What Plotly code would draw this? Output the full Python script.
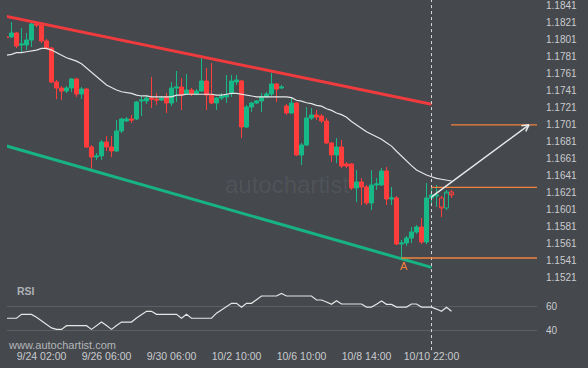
import plotly.graph_objects as go

# ---------------- data (4H candles, index = candle number) ----------------
opens = [1.18035, 1.18035, 1.18081, 1.17940, 1.17940, 1.17998, 1.18187, 1.18175, 1.17987, 1.17904,
         1.17504, 1.17434, 1.17398, 1.17434, 1.17540, 1.17363, 1.17422, 1.16740, 1.16622, 1.16634,
         1.16798, 1.16740, 1.16693, 1.16928, 1.17045, 1.17069, 1.17069, 1.17281, 1.17281, 1.17316,
         1.17304, 1.17292, 1.17328, 1.17257, 1.17434, 1.17445, 1.17363, 1.17410, 1.17363, 1.17398,
         1.17516, 1.17351, 1.17257, 1.17316, 1.17328, 1.17375, 1.17504, 1.17516, 1.16975, 1.17210,
         1.17257, 1.17281, 1.17328, 1.17363, 1.17481, 1.17434, 1.17222, 1.17140, 1.17257, 1.16646,
         1.16763, 1.17081, 1.17116, 1.17104, 1.17045, 1.16787, 1.16646, 1.16740, 1.16540, 1.16540,
         1.16257, 1.16328, 1.16269, 1.16081, 1.16293, 1.16293, 1.16457, 1.16128, 1.16140, 1.15598,
         1.15610, 1.15669, 1.15740, 1.15798, 1.15622, 1.16140, 1.16163, 1.16140, 1.16022, 1.16210]
highs = [1.18057, 1.18210, 1.18093, 1.18140, 1.18081, 1.18198, 1.18198, 1.18198, 1.18010, 1.17916,
         1.17528, 1.17457, 1.17457, 1.17551, 1.17551, 1.17445, 1.17434, 1.16763, 1.16669, 1.16822,
         1.16869, 1.16869, 1.17057, 1.17081, 1.17093, 1.17116, 1.17281, 1.17340, 1.17351, 1.17563,
         1.17375, 1.17340, 1.17375, 1.17504, 1.17634, 1.17551, 1.17598, 1.17434, 1.17422, 1.17798,
         1.17669, 1.17728, 1.17328, 1.17375, 1.17587, 1.17587, 1.17587, 1.17528, 1.17234, 1.17269,
         1.17292, 1.17375, 1.17387, 1.17610, 1.17492, 1.17469, 1.17245, 1.17316, 1.17269, 1.16787,
         1.17210, 1.17198, 1.17175, 1.17128, 1.17081, 1.16798, 1.16845, 1.16822, 1.16563, 1.16551,
         1.16469, 1.16375, 1.16293, 1.16469, 1.16375, 1.16493, 1.16504, 1.16269, 1.16163, 1.15646,
         1.15693, 1.15798, 1.15822, 1.15904, 1.16316, 1.16293, 1.16293, 1.16163, 1.16234, 1.16234]
lows = [1.18010, 1.18022, 1.17904, 1.17845, 1.17881, 1.17916, 1.18151, 1.17963, 1.17881, 1.17492,
        1.17304, 1.17292, 1.17375, 1.17387, 1.17328, 1.17304, 1.16728, 1.16481, 1.16587, 1.16587,
        1.16693, 1.16622, 1.16681, 1.16904, 1.17034, 1.17022, 1.17057, 1.17104, 1.17245, 1.17198,
        1.17234, 1.17281, 1.17140, 1.17222, 1.17269, 1.17175, 1.17363, 1.17340, 1.17351, 1.17387,
        1.17175, 1.17245, 1.17175, 1.17292, 1.17257, 1.17328, 1.17469, 1.16845, 1.16963, 1.17151,
        1.17245, 1.17151, 1.17316, 1.17340, 1.17269, 1.17422, 1.17116, 1.17128, 1.16634, 1.16528,
        1.16751, 1.17057, 1.17057, 1.17022, 1.16775, 1.16563, 1.16551, 1.16493, 1.16493, 1.16234,
        1.16093, 1.16057, 1.16057, 1.15998, 1.16234, 1.16281, 1.16057, 1.16057, 1.15587, 1.15434,
        1.15575, 1.15610, 1.15716, 1.15598, 1.15598, 1.16045, 1.16034, 1.15916, 1.15998, 1.16140]
closes = [1.18028, 1.18081, 1.17928, 1.17951, 1.17998, 1.18187, 1.18175, 1.17987, 1.17904, 1.17504,
          1.17434, 1.17398, 1.17434, 1.17540, 1.17363, 1.17422, 1.16740, 1.16622, 1.16634, 1.16798,
          1.16740, 1.16693, 1.16928, 1.17069, 1.17069, 1.17057, 1.17269, 1.17292, 1.17316, 1.17304,
          1.17292, 1.17316, 1.17257, 1.17434, 1.17445, 1.17351, 1.17410, 1.17363, 1.17398, 1.17516,
          1.17351, 1.17257, 1.17316, 1.17340, 1.17351, 1.17516, 1.17528, 1.16975, 1.17210, 1.17257,
          1.17281, 1.17328, 1.17363, 1.17481, 1.17422, 1.17445, 1.17140, 1.17257, 1.16646, 1.16763,
          1.17081, 1.17116, 1.17093, 1.17045, 1.16787, 1.16646, 1.16740, 1.16516, 1.16516, 1.16257,
          1.16328, 1.16269, 1.16081, 1.16293, 1.16304, 1.16457, 1.16128, 1.16140, 1.15598, 1.15610,
          1.15669, 1.15740, 1.15798, 1.15622, 1.16140, 1.16175, 1.16175, 1.16022, 1.16210, 1.16175]
moving_avg = [1.1782, 1.1783, 1.1785, 1.1785, 1.1786, 1.1787, 1.1788, 1.1790, 1.1790, 1.1788,
              1.1785, 1.1782, 1.1779, 1.1777, 1.1775, 1.1772, 1.1767, 1.1761, 1.1756, 1.1752,
              1.1747, 1.1744, 1.1741, 1.1739, 1.1738, 1.1737, 1.1735, 1.1734, 1.1734, 1.1733,
              1.1733, 1.1733, 1.1733, 1.1733, 1.1735, 1.1735, 1.1736, 1.1736, 1.1736, 1.1736,
              1.1736, 1.1736, 1.1735, 1.1735, 1.1736, 1.1737, 1.1737, 1.1736, 1.1735, 1.1734,
              1.1733, 1.1733, 1.1733, 1.1733, 1.1733, 1.1733, 1.1733, 1.1732, 1.1729, 1.1728,
              1.1726, 1.1725, 1.1723, 1.1722, 1.1719, 1.1717, 1.1714, 1.1712, 1.1709, 1.1704,
              1.1700, 1.1695, 1.1692, 1.1689, 1.1686, 1.1683, 1.1679, 1.1675, 1.1669, 1.1663,
              1.1658, 1.1652, 1.1647, 1.1644, 1.1641, 1.1639, 1.1637, 1.1636, 1.1635, 1.1634]
rsi = [50.2, 50.2, 50.2, 53.5, 53.5, 53.5, 51.0, 48.0, 45.0, 42.0,
       40.8, 40.8, 43.9, 43.9, 43.9, 43.9, 43.9, 40.8, 44.0, 47.0,
       44.0, 40.8, 44.0, 47.0, 47.0, 47.0, 50.5, 53.5, 56.1, 56.1,
       53.5, 53.5, 53.5, 53.5, 53.5, 50.2, 53.5, 50.2, 50.2, 50.2,
       50.2, 50.2, 54.5, 57.5, 60.5, 62.9, 62.9, 59.5, 62.9, 62.9,
       66.0, 69.1, 69.1, 69.1, 69.1, 71.3, 69.1, 69.1, 69.1, 69.1,
       69.1, 69.1, 65.7, 65.7, 64.0, 62.0, 65.1, 62.3, 62.3, 62.3,
       62.3, 62.3, 59.7, 59.7, 62.0, 64.8, 62.0, 62.0, 59.7, 59.7,
       59.7, 62.3, 62.3, 59.7, 59.7, 59.7, 58.0, 56.1, 59.5, 56.1]
candle_idx = list(range(len(opens)))

time_tick_idx = [7, 20, 33, 46, 59, 72, 85]
time_tick_labels = ["9/24 02:00", "9/26 06:00", "9/30 06:00", "10/2 10:00",
                    "10/6 10:00", "10/8 14:00", "10/10 22:00"]
price_ticks = [1.1521, 1.1541, 1.1561, 1.1581, 1.1601, 1.1621, 1.1641, 1.1661, 1.1681,
               1.1701, 1.1721, 1.1741, 1.1761, 1.1781, 1.1801, 1.1821, 1.1841]
rsi_ticks = [40, 60]

channel_idx = [0, 85]
resistance_line = [1.18276, 1.17242]
support_line = [1.16751, 1.15324]
pattern_end_idx = 85
point_a_idx = 79
point_a_price = 1.15434
breakout_level = 1.16265
forecast_start = (84.7, 1.1614)
forecast_end = (104.5, 1.1700)
target_start_idx = 88.9

# ---------------- style ----------------
BG = "#45484d"
GREEN = "#17b987"
RED = "#ff3d3d"
ORANGE = "#f0823c"
TXT = "#c9cbce"
X_MAX = 106.1

fig = go.Figure()

n_filled = pattern_end_idx + 1
fig.add_trace(go.Candlestick(
    x=candle_idx[:n_filled], open=opens[:n_filled], high=highs[:n_filled],
    low=lows[:n_filled], close=closes[:n_filled],
    increasing=dict(line=dict(color=GREEN, width=1), fillcolor=GREEN),
    decreasing=dict(line=dict(color=RED, width=1), fillcolor=RED),
    whiskerwidth=0, xaxis="x", yaxis="y"))
fig.add_trace(go.Candlestick(
    x=candle_idx[n_filled:], open=opens[n_filled:], high=highs[n_filled:],
    low=lows[n_filled:], close=closes[n_filled:],
    increasing=dict(line=dict(color=GREEN, width=1), fillcolor=BG),
    decreasing=dict(line=dict(color=RED, width=1), fillcolor=BG),
    whiskerwidth=0, xaxis="x", yaxis="y"))

fig.add_trace(go.Scatter(x=candle_idx, y=moving_avg, mode="lines",
                         line=dict(color="#e6e6e6", width=1.2), xaxis="x", yaxis="y"))
fig.add_trace(go.Scatter(x=channel_idx, y=resistance_line, mode="lines",
                         line=dict(color="#f03b3e", width=3), xaxis="x", yaxis="y"))
fig.add_trace(go.Scatter(x=channel_idx, y=support_line, mode="lines",
                         line=dict(color="#17b383", width=3), xaxis="x", yaxis="y"))
fig.add_trace(go.Scatter(x=candle_idx, y=rsi, mode="lines",
                         line=dict(color="#e6e6e6", width=1.2), xaxis="x", yaxis="y2"))

shapes = [
    dict(type="line", xref="x", yref="paper", x0=pattern_end_idx, x1=pattern_end_idx,
         y0=-0.006, y1=1, line=dict(color="#d8d8d8", width=1, dash="3px,3px")),
    dict(type="line", xref="x", yref="y", x0=point_a_idx, x1=X_MAX,
         y0=point_a_price, y1=point_a_price, line=dict(color=ORANGE, width=1.5)),
    dict(type="line", xref="x", yref="y", x0=pattern_end_idx, x1=X_MAX,
         y0=breakout_level, y1=breakout_level, line=dict(color=ORANGE, width=1.2)),
    dict(type="line", xref="x", yref="y", x0=target_start_idx, x1=X_MAX,
         y0=forecast_end[1], y1=forecast_end[1], line=dict(color=ORANGE, width=1.2)),
]

ARROW = "#e8e8e8"
annotations = [
    dict(x=forecast_end[0], y=forecast_end[1], ax=forecast_start[0], ay=forecast_start[1],
         xref="x", yref="y", axref="x", ayref="y", text="", showarrow=True,
         arrowhead=0, arrowwidth=1.5, arrowcolor=ARROW),
    dict(x=forecast_end[0], y=forecast_end[1], ax=-9, ay=1, xref="x", yref="y",
         text="", showarrow=True, arrowhead=0, arrowwidth=1.5, arrowcolor=ARROW),
    dict(x=forecast_end[0], y=forecast_end[1], ax=-4, ay=8, xref="x", yref="y",
         text="", showarrow=True, arrowhead=0, arrowwidth=1.5, arrowcolor=ARROW),
    dict(x=point_a_idx + 0.5, y=point_a_price, xref="x", yref="y", text="A", showarrow=False,
         yshift=-8, font=dict(color=ORANGE, size=11, family="Liberation Sans, Arial")),
    dict(x=0.015, y=0.164, xref="paper", yref="paper", xanchor="left", yanchor="middle",
         text="<b>RSI</b>", showarrow=False,
         font=dict(color="#aeb1b6", size=10.5, family="Liberation Sans, Arial")),
    dict(x=-0.002, y=0.009, xref="paper", yref="paper", xanchor="left", yanchor="middle",
         text="www.autochartist.com", showarrow=False,
         font=dict(color="#b4b6b9", size=11, family="Liberation Sans, Arial")),
    dict(x=0.528, y=0.47, xref="paper", yref="paper", xanchor="center", yanchor="middle",
         text="autochartist", showarrow=False,
         font=dict(color="rgba(255,255,255,0.07)", size=24, family="Liberation Sans, Arial")),
]

fig.update_layout(
    width=588, height=368,
    margin=dict(l=7, r=51, t=0, b=20),
    paper_bgcolor=BG, plot_bgcolor=BG,
    showlegend=False,
    boxgap=0.15, boxgroupgap=0.05,
    shapes=shapes, annotations=annotations,
    xaxis=dict(range=[0.1, X_MAX], anchor="y2", tickmode="array",
               tickvals=time_tick_idx, ticktext=time_tick_labels,
               showgrid=False, zeroline=False, showline=False, ticks="",
               rangeslider=dict(visible=False), automargin=False,
               ticklabeloverflow="allow",
               tickfont=dict(color=TXT, size=10.5, family="Liberation Sans, Arial")),
    yaxis=dict(domain=[0.181, 1], range=[1.15116, 1.18469], side="right",
               tickmode="array", tickvals=price_ticks,
               ticktext=[f"{v:.4f}" for v in price_ticks],
               showgrid=False, zeroline=False, showline=False,
               ticks="outside", ticklen=6, tickcolor=BG, automargin=False,
               ticklabeloverflow="allow",
               tickfont=dict(color=TXT, size=10, family="Liberation Sans, Arial")),
    yaxis2=dict(domain=[0, 0.181], range=[25, 78.4], side="right", anchor="x",
                tickmode="array", tickvals=rsi_ticks, ticktext=[str(v) for v in rsi_ticks],
                showgrid=True, gridcolor="#5c6065", gridwidth=1,
                zeroline=False, showline=False,
                ticks="outside", ticklen=6, tickcolor=BG, automargin=False,
                ticklabeloverflow="allow",
                tickfont=dict(color=TXT, size=10, family="Liberation Sans, Arial")),
    hovermode=False,
)

fig.write_html(
    "out.html",
    config={"displayModeBar": False, "staticPlot": True},
    post_script="document.body.style.margin='0';document.body.style.overflow='hidden';"
                "document.body.style.background='" + BG + "';",
)
